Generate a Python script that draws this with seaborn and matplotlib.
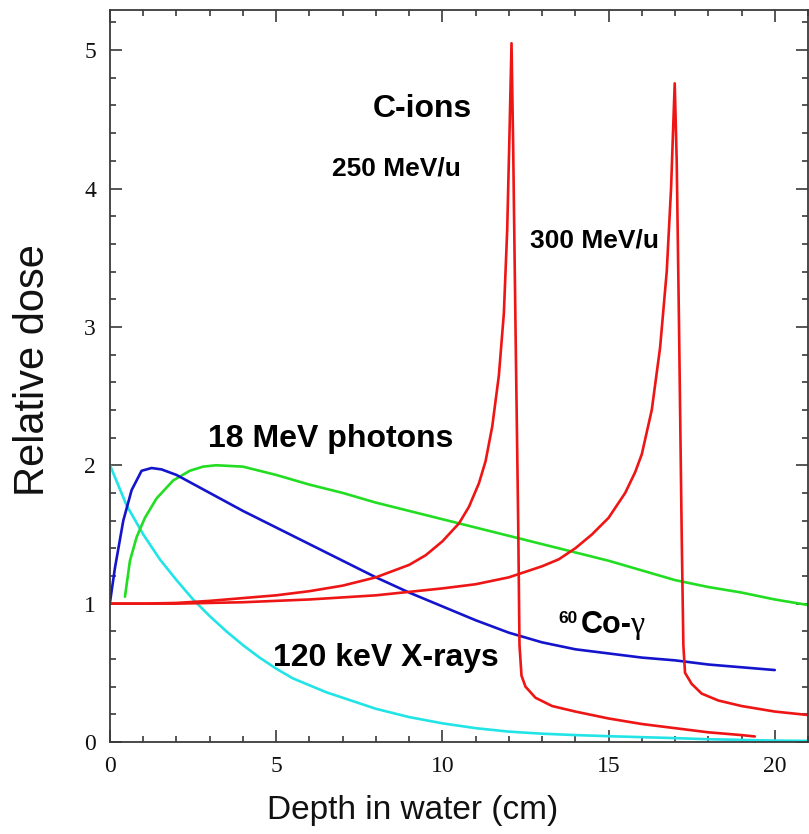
import matplotlib
matplotlib.use("Agg")
import matplotlib.pyplot as plt
from matplotlib.ticker import MultipleLocator
import pandas as pd
import seaborn as sns

# Depth-dose curves in water (depth in cm, dose relative to entrance)
carbon250_depth = [0, 1, 2, 3, 4, 5, 6, 7, 8, 9, 9.5, 10, 10.5, 10.8, 11.1, 11.3, 11.5,
                   11.7, 11.85, 11.95, 12.02, 12.08, 12.13, 12.2, 12.28, 12.32, 12.38,
                   12.5, 12.8, 13.3, 14, 15, 16, 17, 18, 19, 19.4]
carbon250_dose = [1.0, 1.0, 1.005, 1.02, 1.04, 1.06, 1.09, 1.13, 1.19, 1.28, 1.35, 1.45,
                  1.58, 1.70, 1.87, 2.03, 2.28, 2.65, 3.1, 3.7, 4.4, 5.05, 4.3, 3.0,
                  1.6, 0.7, 0.48, 0.40, 0.32, 0.26, 0.22, 0.17, 0.13, 0.10, 0.07, 0.05,
                  0.04]

carbon300_depth = [0, 2, 4, 6, 8, 10, 11, 12, 13, 13.5, 14, 14.5, 15, 15.5, 15.8, 16,
                   16.3, 16.55, 16.75, 16.88, 16.99, 17.05, 17.12, 17.2, 17.25, 17.3,
                   17.5, 17.8, 18.3, 19, 20, 21]
carbon300_dose = [1.0, 1.0, 1.01, 1.03, 1.06, 1.11, 1.14, 1.19, 1.27, 1.32, 1.40, 1.50,
                  1.62, 1.80, 1.95, 2.08, 2.40, 2.85, 3.4, 4.0, 4.76, 4.2, 3.0, 1.5,
                  0.7, 0.50, 0.42, 0.35, 0.30, 0.26, 0.22, 0.195]

cobalt_depth = [0, 0.15, 0.4, 0.65, 0.95, 1.25, 1.55, 2, 3, 4, 5, 6, 7, 8, 9, 10, 11,
                12, 13, 14, 15, 16, 17, 18, 19, 20]
cobalt_dose = [1.01, 1.26, 1.6, 1.82, 1.96, 1.98, 1.97, 1.93, 1.80, 1.67, 1.55, 1.43,
               1.31, 1.19, 1.08, 0.98, 0.88, 0.79, 0.72, 0.67, 0.64, 0.61, 0.59, 0.56,
               0.54, 0.52]

photon18_depth = [0.45, 0.6, 0.8, 1.05, 1.4, 1.9, 2.4, 2.8, 3.2, 4, 5, 6, 7, 8, 9, 10,
                  11, 12, 13, 14, 15, 16, 17, 18, 19, 20, 21]
photon18_dose = [1.05, 1.31, 1.48, 1.62, 1.76, 1.89, 1.96, 1.99, 2.0, 1.99, 1.93, 1.86,
                 1.80, 1.73, 1.67, 1.61, 1.55, 1.49, 1.43, 1.37, 1.31, 1.24, 1.17,
                 1.12, 1.08, 1.03, 0.99]

xray120_depth = [0, 0.5, 1, 1.5, 2, 2.5, 3, 3.5, 4, 4.5, 5, 5.5, 6, 6.5, 7, 8, 9, 10,
                 11, 12, 13, 14, 15, 16, 17, 18, 19, 20, 21]
xray120_dose = [2.0, 1.71, 1.50, 1.32, 1.17, 1.03, 0.91, 0.80, 0.70, 0.61, 0.53, 0.46,
                0.41, 0.36, 0.32, 0.24, 0.18, 0.135, 0.10, 0.075, 0.06, 0.05, 0.042,
                0.035, 0.028, 0.02, 0.015, 0.01, 0.008]

beam_colors = {
    "xray120": "#22e4e6",
    "photon18": "#22dd22",
    "cobalt": "#1414cc",
    "carbon250": "#ee1515",
    "carbon300": "#ee1515",
}

frames = []
for name, d, v in [("xray120", xray120_depth, xray120_dose),
                   ("photon18", photon18_depth, photon18_dose),
                   ("cobalt", cobalt_depth, cobalt_dose),
                   ("carbon250", carbon250_depth, carbon250_dose),
                   ("carbon300", carbon300_depth, carbon300_dose)]:
    frames.append(pd.DataFrame({"depth": d, "dose": v, "beam": name}))
df = pd.concat(frames, ignore_index=True)

sns.set_theme(style="ticks")
plt.rcParams["font.family"] = ["Liberation Sans", "DejaVu Sans"]

fig = plt.figure(figsize=(8.09, 8.34), dpi=100)
ax = fig.add_axes([110 / 809, 92 / 834, 698 / 809, 732 / 834])

sns.lineplot(data=df, x="depth", y="dose", hue="beam", palette=beam_colors,
             estimator=None, sort=False, legend=False, linewidth=1.9, ax=ax)

ax.set_xlim(0, 21)
ax.set_ylim(0, 5.29)
ax.xaxis.set_major_locator(MultipleLocator(5))
ax.xaxis.set_minor_locator(MultipleLocator(1))
ax.yaxis.set_major_locator(MultipleLocator(1))
ax.yaxis.set_minor_locator(MultipleLocator(0.2))
ax.tick_params(which="both", direction="in", top=True, right=True,
               color="#3a3a3a", width=1.2)
ax.tick_params(which="major", length=8.5, pad=10)
ax.tick_params(which="minor", length=4.5)
for lab in ax.get_xticklabels() + ax.get_yticklabels():
    lab.set_family("Liberation Serif")
    lab.set_fontsize(17)
    lab.set_color("#111111")
for s in ax.spines.values():
    s.set_color("#3a3a3a")
    s.set_linewidth(1.3)
ax.set_xlabel("")
ax.set_ylabel("")

fig.text(413 / 809, 1 - 810 / 834, "Depth in water (cm)", ha="center", va="center",
         fontsize=24, color="#111111")
fig.text(33 / 809, 1 - 370 / 834, "Relative dose", ha="center", va="center",
         rotation=90, fontsize=30, color="#111111")

bold = dict(fontweight="bold", color="black", va="baseline", ha="left")
ax.text(7.92, 4.516, "C-ions", fontsize=23, **bold)
ax.text(6.69, 4.097, "250 MeV/u", fontsize=19, **bold)
ax.text(12.65, 3.577, "300 MeV/u", fontsize=19, **bold)
ax.text(2.95, 2.131, "18 MeV photons", fontsize=23, **bold)
ax.text(4.91, 0.55, "120 keV X-rays", fontsize=23, **bold)
ax.text(14.16, 0.788, "Co-", fontsize=22, **bold)
ax.text(14.07, 0.86, "60", fontsize=12.5, fontweight="bold", color="black",
        va="baseline", ha="right")
ax.text(15.66, 0.788, "γ", fontsize=23, color="black", va="baseline", ha="left",
        family=["Liberation Serif", "DejaVu Serif"])

fig.savefig("out.png", dpi=100)
